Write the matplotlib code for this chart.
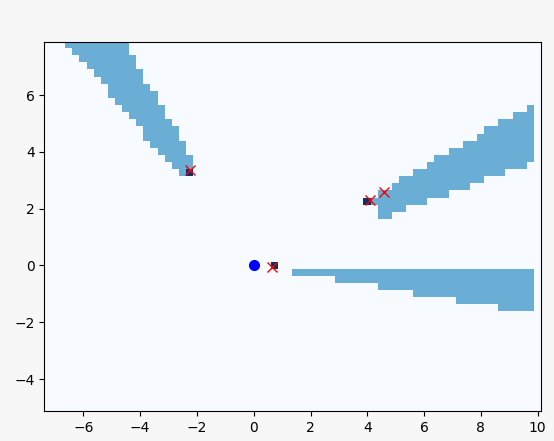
import numpy as np
import matplotlib
matplotlib.use("Agg")
import matplotlib.pyplot as plt

# grid: 0.25 m cells, centres on multiples of 0.25
res = 0.25
x_centers = np.arange(-7.25, 10.0 + res / 2, res)
y_centers = np.arange(-5.0, 7.75 + res / 2, res)

robot = (0.0, 0.0)

# occupied cells (value 1)
occ_x = [0.75, 4.0, -2.25]
occ_y = [0.0, 2.25, 3.25]

# measured hits
hit_x = [0.63, 4.11, 4.58, -2.23]
hit_y = [-0.05, 2.30, 2.59, 3.37]

# shadow behind the first obstacle: (x from, x to, y low, y high)
shadow_low = [
    (1.5, 2.75, -0.25, -0.25),
    (3.0, 4.25, -0.5, -0.25),
    (4.5, 5.5, -0.75, -0.25),
    (5.75, 7.0, -1.0, -0.25),
    (7.25, 8.5, -1.25, -0.25),
    (8.75, 9.75, -1.5, -0.25),
]

# shadow behind the second obstacle
shadow_right = [
    (4.25, 4.25, 2.25, 2.25),
    (4.5, 4.75, 1.75, 2.5),
    (5.0, 5.0, 2.0, 2.75),
    (5.25, 5.25, 2.0, 3.0),
    (5.5, 5.5, 2.25, 3.0),
    (5.75, 6.0, 2.25, 3.25),
    (6.25, 6.25, 2.5, 3.5),
    (6.5, 6.75, 2.5, 3.75),
    (7.0, 7.25, 2.75, 4.0),
    (7.5, 7.5, 2.75, 4.25),
    (7.75, 7.75, 3.0, 4.25),
    (8.0, 8.0, 3.0, 4.5),
    (8.25, 8.5, 3.25, 4.75),
    (8.75, 8.75, 3.25, 5.0),
    (9.0, 9.0, 3.5, 5.0),
    (9.25, 9.5, 3.5, 5.25),
    (9.75, 9.75, 3.75, 5.5),
]

# shadow behind the third obstacle, row by row: (y, x low, x high)
shadow_left = [
    (7.75, -6.5, -4.5),
    (7.5, -6.25, -4.5),
    (7.25, -6.0, -4.25),
    (7.0, -5.75, -4.25),
    (6.75, -5.5, -4.0),
    (6.5, -5.25, -4.0),
    (6.25, -5.0, -3.75),
    (6.0, -5.0, -3.5),
    (5.75, -4.75, -3.5),
    (5.5, -4.5, -3.25),
    (5.25, -4.25, -3.25),
    (5.0, -4.0, -3.0),
    (4.75, -3.75, -2.75),
    (4.5, -3.75, -2.75),
    (4.25, -3.5, -2.5),
    (4.0, -3.25, -2.5),
    (3.75, -3.0, -2.25),
    (3.5, -2.75, -2.25),
    (3.25, -2.5, -2.5),
]


def ix(x):
    return int(round((x - x_centers[0]) / res))


def iy(y):
    return int(round((y - y_centers[0]) / res))


grid = np.zeros((len(y_centers), len(x_centers)))
for x0, x1, y0, y1 in shadow_low + shadow_right:
    grid[iy(y0):iy(y1) + 1, ix(x0):ix(x1) + 1] = 0.5
for y, x0, x1 in shadow_left:
    grid[iy(y), ix(x0):ix(x1) + 1] = 0.5
for x, y in zip(occ_x, occ_y):
    grid[iy(y), ix(x)] = 1.0

extent = [x_centers[0] - res / 2, x_centers[-1] + res / 2,
          y_centers[0] - res / 2, y_centers[-1] + res / 2]

fig = plt.figure(figsize=(5.54, 4.41), dpi=100, facecolor="#f7f7f7")
ax = fig.add_axes([0.080, 0.068, 0.897, 0.837])
ax.imshow(grid, origin="lower", extent=extent, cmap="Blues",
          vmin=0, vmax=1, interpolation="nearest")
ax.plot(robot[0], robot[1], "o", color="blue", markersize=7)
ax.plot(hit_x, hit_y, "x", color="red", markersize=7)
ax.set_xlim(extent[0], extent[1])
ax.set_ylim(extent[2], extent[3])
ax.set_aspect("equal")

fig.savefig("out.png", dpi=100, facecolor=fig.get_facecolor())
